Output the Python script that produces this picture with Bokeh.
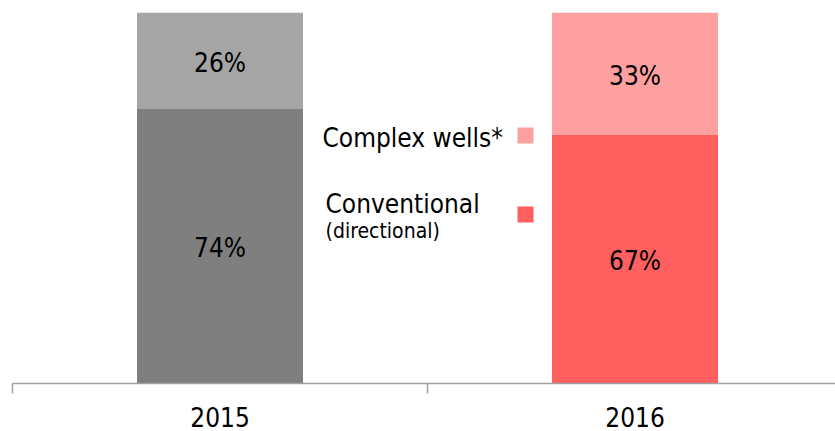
from bokeh.plotting import figure
from bokeh.models import ColumnDataSource, Range1d, FixedTicker, Label
from bokeh.core.properties import value
from bokeh.embed import file_html
from bokeh.resources import INLINE

years = ["2015", "2016"]
conventional = [74, 67]
complex_wells = [26, 33]
bottom_colors = ["#7F7F7F", "#FF5F5F"]
top_colors = ["#A5A5A5", "#FFA0A0"]
legend_labels = ["Complex wells*", "Conventional", "(directional)"]

FONT = "DejaVu Sans Condensed"

xs = [i + 0.5 for i in range(len(years))]
src = ColumnDataSource(dict(
    x=xs,
    conv=conventional,
    cplx=complex_wells,
    top=[c + k for c, k in zip(conventional, complex_wells)],
    c1=bottom_colors,
    c2=top_colors,
    mid1=[c / 2 for c in conventional],
    mid2=[c + k / 2 for c, k in zip(conventional, complex_wells)],
    t1=[f"{c}%" for c in conventional],
    t2=[f"{k}%" for k in complex_wells],
))

p = figure(width=835, height=431, output_backend="svg", toolbar_location=None,
           x_range=Range1d(0, 1.983), y_range=Range1d(0, 100),
           min_border_left=12, min_border_right=0, min_border_top=12,
           min_border_bottom=48)
p.outline_line_color = None
p.xgrid.visible = False
p.ygrid.visible = False
p.yaxis.visible = False
p.background_fill_color = "white"
p.border_fill_color = "white"

p.vbar(x="x", bottom=0, top="conv", width=0.4, fill_color="c1", line_color=None, source=src)
p.vbar(x="x", bottom="conv", top="top", width=0.4, fill_color="c2", line_color=None, source=src)

p.text(x="x", y="mid1", text="t1", source=src, text_align="center", text_baseline="middle",
       y_offset=2, text_font=value(FONT), text_font_size="26px", text_color="black")
p.text(x="x", y="mid2", text="t2", source=src, text_align="center", text_baseline="middle",
       y_offset=2, text_font=value(FONT), text_font_size="26px", text_color="black")

ax = p.xaxis[0]
ax.ticker = FixedTicker(ticks=xs, minor_ticks=[0, 1, 2])
ax.major_label_overrides = {x: y for x, y in zip(xs, years)}
ax.major_tick_out = 0
ax.major_tick_in = 0
ax.minor_tick_out = 10
ax.minor_tick_in = 0
ax.minor_tick_line_color = "#A0A0A0"
ax.minor_tick_line_width = 1.5
ax.axis_line_color = "#A0A0A0"
ax.axis_line_width = 1.5
ax.major_label_text_font = FONT
ax.major_label_text_font_size = "26px"
ax.major_label_text_color = "black"
ax.major_label_standoff = 13

# legend (pixel positions converted to data coords)
def dx(px):
    return (px - 12) / 415.0

def dy(py):
    return (383 - py) / 3.71

p.rect(x=[dx(525), dx(525)], y=[dy(135), dy(214)], width=16, height=16,
       width_units="screen", height_units="screen",
       fill_color=[top_colors[1], bottom_colors[1]], line_color=None)

p.add_layout(Label(x=dx(322), y=dy(137), text=legend_labels[0], text_font=FONT,
                   text_font_size="26px", text_baseline="middle", text_align="left",
                   text_color="black"))
p.add_layout(Label(x=dx(325), y=dy(203), text=legend_labels[1], text_font=FONT,
                   text_font_size="26px", text_baseline="middle", text_align="left",
                   text_color="black"))
p.add_layout(Label(x=dx(325), y=dy(230), text=legend_labels[2], text_font=FONT,
                   text_font_size="21px", text_baseline="middle", text_align="left",
                   text_color="black"))

open("out.html", "w").write(file_html(p, INLINE))
